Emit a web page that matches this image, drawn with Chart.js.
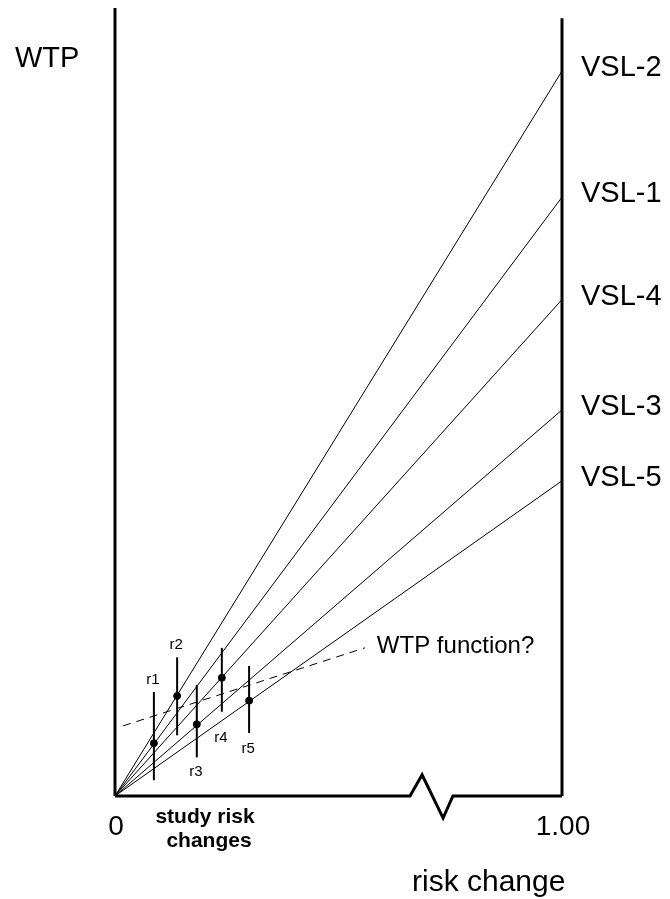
<!DOCTYPE html>
<html>
<head>
<meta charset="utf-8">
<script src="https://cdn.jsdelivr.net/npm/chart.js@4/dist/chart.umd.min.js"></script>
<style>
  html, body { margin: 0; padding: 0; background: #fff; }
  canvas { display: block; }
</style>
</head>
<body>
<canvas id="vslChart" width="670" height="899"></canvas>
<script>
// Values: x = risk change (0..1), y = WTP (arbitrary units)
const vslNames = ['VSL-2', 'VSL-1', 'VSL-4', 'VSL-3', 'VSL-5'];
const vslAtOne = [0.92, 0.76, 0.63, 0.49, 0.40];

const studyNames = ['r1', 'r2', 'r3', 'r4', 'r5'];
const studyRisk = [0.087, 0.139, 0.183, 0.239, 0.30];
const studyWtp = [0.067, 0.127, 0.091, 0.150, 0.121];
const studyLow = [0.020, 0.077, 0.049, 0.107, 0.080];
const studyHigh = [0.132, 0.176, 0.141, 0.188, 0.165];

// dashed "WTP function?" guess
const wtpFnX = [0.018, 0.559];
const wtpFnY = [0.089, 0.188];

const xTickValues = [0, 1];
const xTickLabels = ['0', '1.00'];

// horizontal axis with its break
const axisX = [0, 0.66, 0.687, 0.734, 0.756, 1];
const axisY = [0, 0, 0.027, -0.028, 0, 0];
const leftAxisTop = 1.0;
const rightAxisTop = 0.987;

const FONT = "'Liberation Sans', Arial, sans-serif";

function pts(xs, ys) {
  return xs.map((x, i) => ({ x: x, y: ys[i] }));
}

const datasets = [];

// VSL rays from the origin
vslNames.forEach((name, i) => {
  datasets.push({
    label: name,
    data: [{ x: 0, y: 0 }, { x: 1, y: vslAtOne[i] }],
    borderColor: '#000', borderWidth: 1, pointRadius: 0, showLine: true
  });
});

datasets.push({
  label: 'WTP function?',
  data: pts(wtpFnX, wtpFnY),
  borderColor: '#000', borderWidth: 1, borderDash: [8, 6],
  pointRadius: 0, showLine: true
});

// study ranges
studyNames.forEach((name, i) => {
  datasets.push({
    label: name + ' range',
    data: [{ x: studyRisk[i], y: studyLow[i] }, { x: studyRisk[i], y: studyHigh[i] }],
    borderColor: '#000', borderWidth: 2, pointRadius: 0, showLine: true
  });
});

datasets.push({
  label: 'studies',
  data: pts(studyRisk, studyWtp),
  backgroundColor: '#000', borderColor: '#000',
  pointRadius: 3.5, showLine: false
});

// axes drawn as lines so the break can be shown
datasets.push({
  label: 'x axis', data: pts(axisX, axisY),
  borderColor: '#000', borderWidth: 3, pointRadius: 0, showLine: true,
  clip: false, borderJoinStyle: 'miter'
});
datasets.push({
  label: 'left axis', data: [{ x: 0, y: 0 }, { x: 0, y: leftAxisTop }],
  borderColor: '#000', borderWidth: 3, pointRadius: 0, showLine: true, clip: false
});
datasets.push({
  label: 'right axis', data: [{ x: 1, y: 0 }, { x: 1, y: rightAxisTop }],
  borderColor: '#000', borderWidth: 3, pointRadius: 0, showLine: true, clip: false
});

const textPlugin = {
  id: 'textLabels',
  afterDatasetsDraw(chart) {
    const ctx = chart.ctx;
    const xs = chart.scales.x, ys = chart.scales.y;
    ctx.save();
    ctx.fillStyle = '#000';
    ctx.textBaseline = 'middle';

    ctx.font = '29px ' + FONT;
    ctx.textAlign = 'left';
    ctx.fillText('WTP', 15, 59);

    vslNames.forEach((name, i) => {
      ctx.fillText(name, xs.getPixelForValue(1) + 19, ys.getPixelForValue(vslAtOne[i]) - 3);
    });

    ctx.font = '28px ' + FONT;
    ctx.textAlign = 'center';
    xTickValues.forEach((v, i) => {
      ctx.fillText(xTickLabels[i], xs.getPixelForValue(v) + 1, ys.getPixelForValue(0) + 31);
    });

    ctx.font = '30px ' + FONT;
    ctx.textAlign = 'left';
    ctx.fillText('risk change', 412, 883);

    ctx.font = '24px ' + FONT;
    ctx.fillText('WTP function?', xs.getPixelForValue(wtpFnX[1]) + 12, ys.getPixelForValue(wtpFnY[1]) - 1);

    ctx.font = 'bold 21px ' + FONT;
    ctx.textAlign = 'center';
    ctx.fillText('study risk', 205, 817);
    ctx.fillText('changes', 209, 841);

    // r labels: above the range for r1, r2; below for the others
    const offs = [-12, -12, 14, 26, 16];
    ctx.font = '15px ' + FONT;
    studyNames.forEach((name, i) => {
      const base = offs[i] < 0 ? studyHigh[i] : studyLow[i];
      ctx.fillText(name, xs.getPixelForValue(studyRisk[i]) - 1, ys.getPixelForValue(base) + offs[i]);
    });
    ctx.restore();
  }
};

new Chart(document.getElementById('vslChart'), {
  type: 'scatter',
  data: { datasets: datasets },
  options: {
    responsive: false,
    animation: false,
    layout: { padding: { left: 115, right: 108, top: 8, bottom: 103 } },
    scales: {
      x: { type: 'linear', min: 0, max: 1, display: false },
      y: { type: 'linear', min: 0, max: 1, display: false }
    },
    plugins: { legend: { display: false }, tooltip: { enabled: false } }
  },
  plugins: [textPlugin]
});
</script>
</body>
</html>
